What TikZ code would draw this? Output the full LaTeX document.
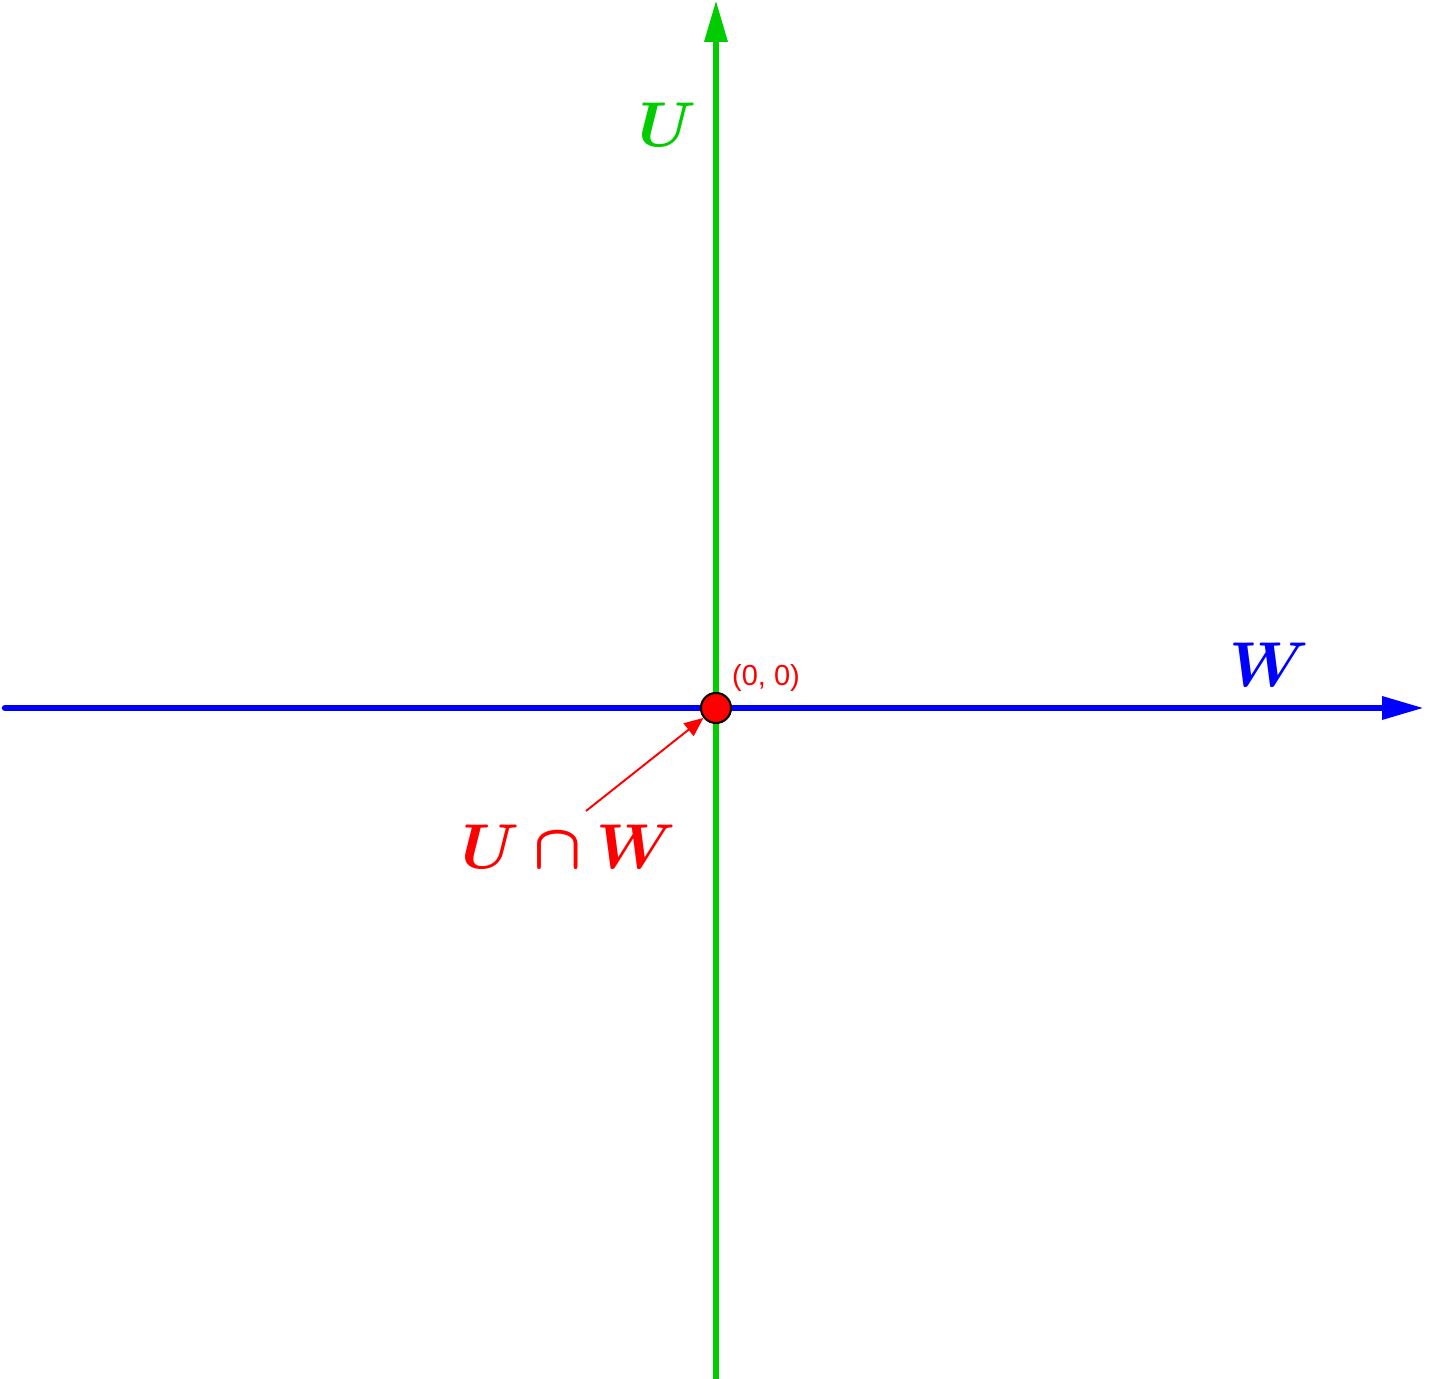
\documentclass[tikz,border=0pt]{standalone}
\usepackage{fontspec}
\usepackage{bm}
\newfontfamily\labelfont{Liberation Sans}
\usetikzlibrary{arrows.meta}
\definecolor{ugreen}{RGB}{0,204,0}
\definecolor{wblue}{RGB}{0,0,255}
\definecolor{capred}{RGB}{255,0,0}

\begin{document}
\begin{tikzpicture} [
                axis/.style = {draw,line width=0.13cm,-{Triangle[length=0.84cm,width=0.44cm]}},
                space/.style = {scale=1.45,font=\Huge},
                origin/.style = {circle,fill=capred,draw=black,line width=1.2pt,minimum size=0.6cm,inner sep=0pt},
                pointer/.style = {draw=capred,line width=1.1pt,-{Triangle[length=0.38cm,width=0.32cm]}},
            ]
            \useasboundingbox (-14.32,-13.42) rectangle (14.30,14.16);
            \coordinate (wstart) at (-14.22,0);
            \coordinate (wend) at (14.16,0);
            \coordinate (ustart) at (0,-13.6);
            \coordinate (uend) at (0,14.16);
            \coordinate (capstart) at (-2.6,-2.06);
            \path[axis,wblue,line cap=round] (wstart) -- (wend);
            \path[axis,ugreen] (ustart) -- (uend);
            \node[origin] (O) at (0,0) {};
            \node[text=capred,font=\labelfont\fontsize{16.5}{18}\selectfont] (olabel) at (1.0,0.6) {(0, 0)};
            \node[space,text=ugreen] (ulabel) at (-0.98,11.66) {$\bm{U}$};
            \node[space,text=wblue] (wlabel) at (11.06,0.86) {$\bm{W}$};
            \node[space,text=capred] (caplabel) at (-2.94,-2.78) {$\bm{U\cap W}$};
            \path[pointer] (capstart) -- (O);
        \end{tikzpicture}
\end{document}
